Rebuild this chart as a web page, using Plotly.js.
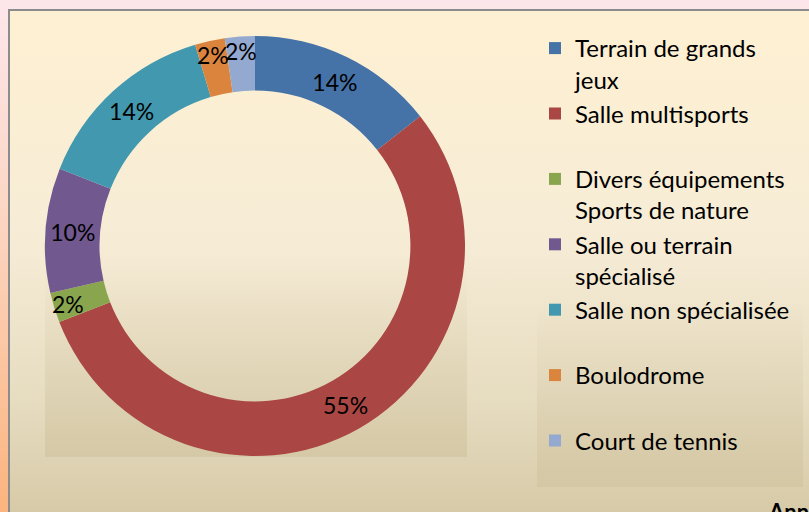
<!DOCTYPE html>
<html>
<head>
<meta charset="utf-8">
<script src="https://cdn.plot.ly/plotly-3.0.1.min.js"></script>
<style>
  html, body { margin:0; padding:0; width:809px; height:512px; overflow:hidden; }
  #outer { position:absolute; left:0; top:0; width:809px; height:512px;
    background: linear-gradient(to bottom, #FDE6EB 0%, #FCD7C5 40%, #FBB47E 100%); }
  #frame { position:absolute; left:8px; top:9px; width:820px; height:520px;
    border-left:2px solid #8C8C8C; border-top:2px solid #8C8C8C;
    background: linear-gradient(to bottom, #FEF0D2 0%, #F6ECD6 45%, #E6DCC0 75%, #D4C7A4 100%); }
  #plotbg { position:absolute; left:45px; top:30px; width:422px; height:427px;
    background: linear-gradient(to bottom, rgba(210,196,160,0) 0%, rgba(210,196,160,0) 55%, rgba(205,192,155,0.55) 100%); }
  #legbg { position:absolute; left:537px; top:22px; width:266px; height:465px;
    background: linear-gradient(to bottom, rgba(210,196,160,0) 0%, rgba(210,196,160,0) 60%, rgba(205,192,155,0.5) 100%); }
  #chart { position:absolute; left:0; top:0; width:809px; height:512px; }
</style>
</head>
<body>
<div id="outer"></div>
<div id="frame"></div>
<div id="plotbg"></div>
<div id="legbg"></div>
<div id="chart"></div>
<script>
// Data
const categories = [
  "Terrain de grands<br>jeux",
  "Salle multisports<br> ",
  "Divers équipements<br>Sports de nature",
  "Salle ou terrain<br>spécialisé",
  "Salle non spécialisée<br> ",
  "Boulodrome<br> ",
  "Court de tennis"
];
const shares = [14.4, 54.7, 2.3, 9.6, 14.4, 2.3, 2.3];
const sliceColors = ["#4572A7", "#AA4643", "#89A54E", "#71588F", "#4198AF", "#DB843D", "#93A9CF"];

const trace = {
  type: "pie",
  labels: categories,
  values: shares,
  hole: 0.74,
  sort: false,
  direction: "clockwise",
  rotation: 0,
  marker: { colors: sliceColors, line: { width: 0 } },
  texttemplate: "%{percent:.0%}",
  textposition: "inside",
  insidetextorientation: "horizontal",
  textfont: { family: "Lato, 'Open Sans', sans-serif", size: 23, color: "#000" },
  domain: { x: [45/809, 465/809], y: [55/512, 477/512] },
  hoverinfo: "label+percent"
};

const layout = {
  width: 809, height: 512,
  margin: { l: 0, r: 0, t: 0, b: 0 },
  paper_bgcolor: "rgba(0,0,0,0)",
  plot_bgcolor: "rgba(0,0,0,0)",
  showlegend: true,
  uniformtext: { mode: "show", minsize: 23 },
  legend: {
    x: 535/809, xanchor: "left",
    y: 1 - 26/512, yanchor: "top",
    valign: "top",
    bgcolor: "rgba(0,0,0,0)",
    font: { family: "Lato, 'Open Sans', sans-serif", size: 24, color: "#000" },
    itemwidth: 30,
    tracegroupgap: 0
  },
  annotations: [{
    xref: "paper", yref: "paper",
    x: 766/809, y: 16/512, xanchor: "left", yanchor: "top",
    text: "<b>Annexe</b>", showarrow: false,
    font: { family: "Lato, sans-serif", size: 22, color: "#000" }
  }]
};

Plotly.newPlot("chart", [trace], layout, { displayModeBar: false, staticPlot: true });
</script>
</body>
</html>
